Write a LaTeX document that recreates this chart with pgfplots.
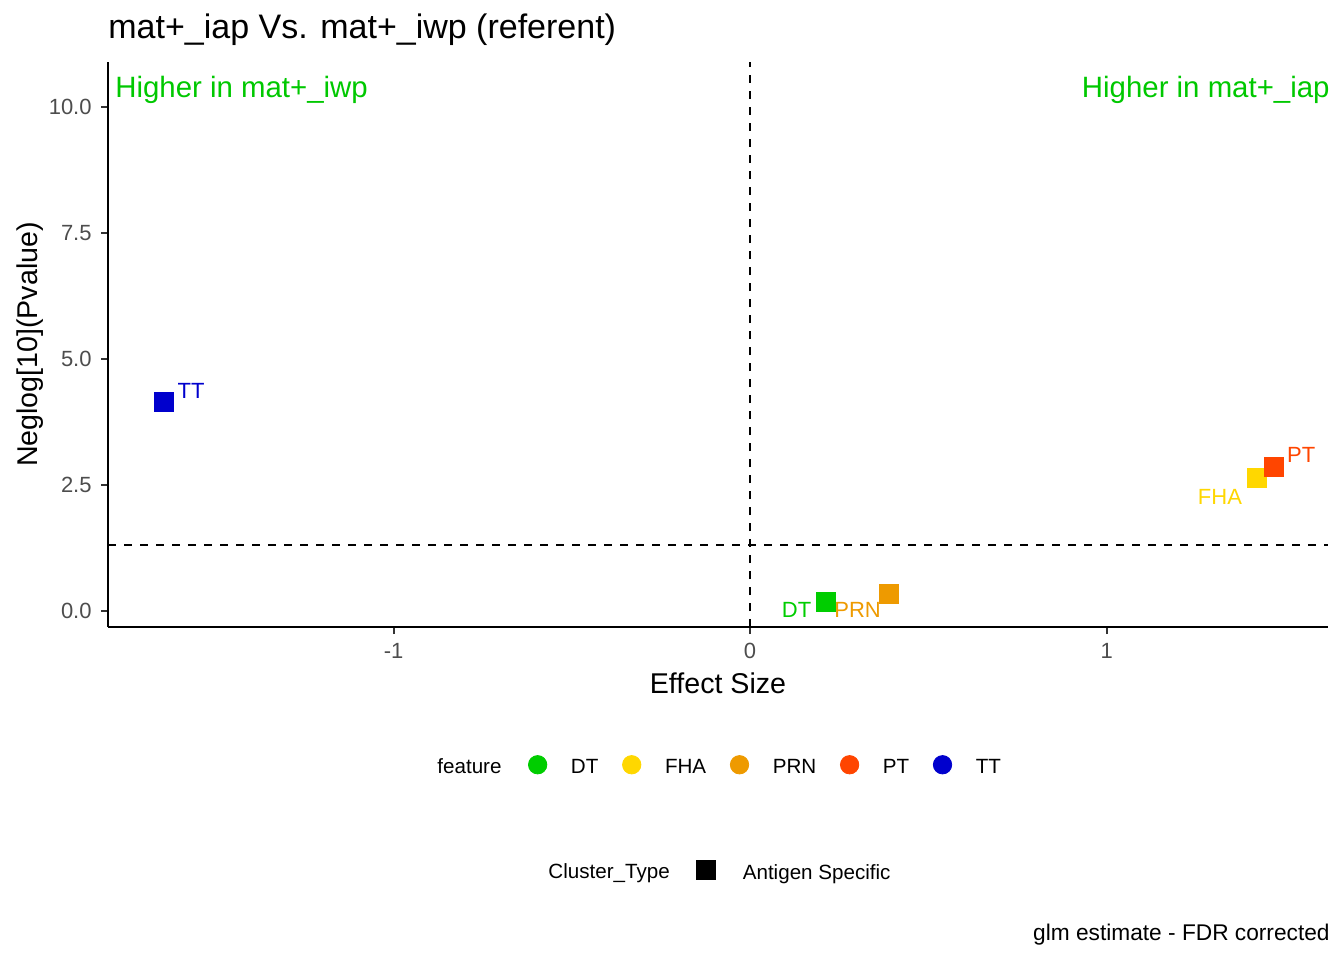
\documentclass[border=0pt]{standalone}
\usepackage{fontspec}
\setmainfont{Liberation Sans}
\usepackage{pgfplots}
\pgfplotsset{compat=1.18}
\definecolor{dtgreen}{HTML}{00CD00}
\definecolor{fhagold}{HTML}{FFD700}
\definecolor{prnorange}{HTML}{EE9A00}
\definecolor{ptred}{HTML}{FF4500}
\definecolor{ttblue}{HTML}{0000CD}
\definecolor{annot}{HTML}{00C800}
\definecolor{grey30}{HTML}{4D4D4D}
\definecolor{grey20}{HTML}{333333}
\begin{document}
\begin{tikzpicture}
\path[use as bounding box] (0pt,0pt) rectangle (672pt,480pt);
\begin{axis}[
  at={(54pt,166.5pt)}, anchor=south west,
  scale only axis, width=610pt, height=282.5pt,
  xmin=-1.801, xmax=1.621, ymin=-0.317, ymax=10.893,
  clip=false,
  axis lines*=left,
  axis line style={-, line width=1pt, black},
  every inner x axis line/.append style={-},
  every inner y axis line/.append style={-},
  every outer x axis line/.append style={-},
  every outer y axis line/.append style={-},
  xtick={-1,0,1}, xticklabels={-1,0,1},
  ytick={0,2.5,5,7.5,10}, yticklabels={0.0,2.5,5.0,7.5,10.0},
  tick align=outside, major tick length=3.5pt,
  tick style={line width=1pt, color=grey20},
  ticklabel style={font=\fontsize{11}{13}\selectfont, text=grey30, inner sep=0pt},
  yticklabel style={anchor=east, xshift=-4.5pt},
  xticklabel style={anchor=north, yshift=-4.5pt},
  xlabel={Effect Size},
  ylabel={Neglog[10](Pvalue)},
  label style={font=\fontsize{14.3}{17}\selectfont, inner sep=0pt},
  xlabel style={at={(axis description cs:0.5,-0.1168)}, anchor=base},
  ylabel style={at={(axis description cs:-0.0579,0.5)}, anchor=base},
  legend image code/.code={\fill[#1] (4.6pt,1.75pt) circle (4.6pt);},
  legend columns=5,
  legend cell align=left,
  legend style={at={(axis description cs:0.3443,-0.2460)}, anchor=west,
    draw=none, fill=none, inner sep=0pt, outer sep=0pt,
    font=\fontsize{10.3}{12}\selectfont,
    column sep=11.85pt, nodes={inner sep=0pt}},
]
\addplot[forget plot, black, line width=1pt, dash pattern=on 4pt off 4pt]
  coordinates {(-1.801,1.301) (1.621,1.301)};
\addplot[forget plot, black, line width=1pt, dash pattern=on 4pt off 4pt]
  coordinates {(0,-0.317) (0,10.893)};
\addplot[only marks, mark=square*, color=dtgreen, mark size=4.75pt,
  mark options={draw=none, fill=dtgreen}] coordinates {(0.212,0.188)};
\addlegendentry{DT}
\addplot[only marks, mark=square*, color=fhagold, mark size=4.75pt,
  mark options={draw=none, fill=fhagold}] coordinates {(1.421,2.649)};
\addlegendentry{FHA}
\addplot[only marks, mark=square*, color=prnorange, mark size=4.75pt,
  mark options={draw=none, fill=prnorange}] coordinates {(0.390,0.347)};
\addlegendentry{PRN}
\addplot[only marks, mark=square*, color=ptred, mark size=4.75pt,
  mark options={draw=none, fill=ptred}] coordinates {(1.468,2.867)};
\addlegendentry{PT}
\addplot[only marks, mark=square*, color=ttblue, mark size=4.75pt,
  mark options={draw=none, fill=ttblue}] coordinates {(-1.645,4.157)};
\addlegendentry{TT}
\node[anchor=base, inner sep=0pt, text=ttblue, font=\fontsize{11}{13}\selectfont] at (axis cs:-1.568,4.226) {TT};
\node[anchor=base, inner sep=0pt, text=ptred, font=\fontsize{11}{13}\selectfont] at (axis cs:1.5456,2.937) {PT};
\node[anchor=base, inner sep=0pt, text=fhagold, font=\fontsize{11}{13}\selectfont] at (axis cs:1.318,2.123) {FHA};
\node[anchor=base, inner sep=0pt, text=dtgreen, font=\fontsize{11}{13}\selectfont] at (axis cs:0.1304,-0.119) {DT};
\node[anchor=base, inner sep=0pt, text=prnorange, font=\fontsize{11}{13}\selectfont] at (axis cs:0.3015,-0.119) {PRN};
\node[anchor=base west, inner sep=0pt, text=annot, font=\fontsize{14.7}{17}\selectfont] at (axis description cs:0.0057,0.9363) {Higher in mat+\_iwp};
\node[anchor=base east, inner sep=0pt, text=annot, font=\fontsize{14.7}{17}\selectfont] at (axis description cs:1.0016,0.9363) {Higher in mat+\_iap};
\end{axis}
\begin{axis}[
  at={(54pt,166.5pt)}, anchor=south west,
  scale only axis, width=610pt, height=282.5pt,
  hide axis, xmin=0, xmax=1, ymin=0, ymax=1,
  legend cell align=left,
  legend style={at={(axis description cs:0.48197,-0.4322)}, anchor=west,
    draw=none, fill=none, inner sep=0pt, outer sep=0pt,
    font=\fontsize{10.3}{12}\selectfont,
    column sep=13.5pt, nodes={inner sep=0pt}},
]
\addlegendimage{legend image code/.code={\fill[black] (0pt,-3.15pt) rectangle (9.5pt,6.35pt);}}
\addlegendentry{Antigen Specific}
\end{axis}
\node[anchor=base west, inner sep=0pt, font=\fontsize{17}{20}\selectfont] at (54pt,460.5pt) {mat+\_iap Vs. mat+\_iwp (referent)};
\node[anchor=base west, inner sep=0pt, font=\fontsize{10.3}{12}\selectfont] at (218.5pt,93.5pt) {feature};
\node[anchor=base west, inner sep=0pt, font=\fontsize{10.3}{12}\selectfont] at (274pt,41pt) {Cluster\_Type};
\node[anchor=base east, inner sep=0pt, font=\fontsize{11.35}{13}\selectfont] at (665pt,9.6pt) {glm estimate - FDR corrected};
\end{tikzpicture}
\end{document}
